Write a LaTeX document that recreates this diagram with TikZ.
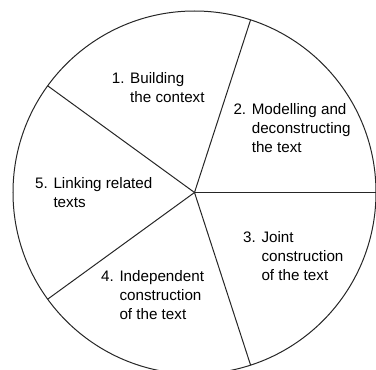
\documentclass[tikz,border=0pt]{standalone}
\usepackage{fontspec}
\setmainfont{Liberation Sans}
\begin{document}
\begin{tikzpicture}[
    x=1pt, y=1pt,
    stagetext/.style={
        align=left, anchor=base west, inner sep=0pt,
        font=\fontsize{15.2}{19}\selectfont,
    },
    spokestyle/.style={line width=1pt, draw=black!85},
]
\useasboundingbox (0,0) rectangle (376,370);

% Wheel
\coordinate (c) at (194.5,177.5);
\draw[spokestyle] (c) circle (181.5);

% Spokes
\foreach \a in {0,72,144,216,288}
    \coordinate (s\a) at ([shift={(\a:181.5)}]c);
\draw[spokestyle] (c) -- (s0);
\draw[spokestyle] (c) -- (s72);
\draw[spokestyle] (c) -- (s144);
\draw[spokestyle] (c) -- (s216);
\draw[spokestyle] (c) -- (s288);

% Stages (anchored at the baseline of the last line)
\node[stagetext] (context) at (111.7,267.2) {1. Building\\\phantom{1. }the context};
\node[stagetext] (model) at (233.3,217.2) {2. Modelling and\\\phantom{2. }deconstructing\\\phantom{2. }the text};
\node[stagetext] (joint) at (243,89.5) {3. Joint\\\phantom{3. }construction\\\phantom{3. }of the text};
\node[stagetext] (indep) at (101,50) {4. Independent\\\phantom{4. }construction\\\phantom{4. }of the text};
\node[stagetext] (linking) at (35,162.5) {5. Linking related\\\phantom{5. }texts};

\end{tikzpicture}
\end{document}
